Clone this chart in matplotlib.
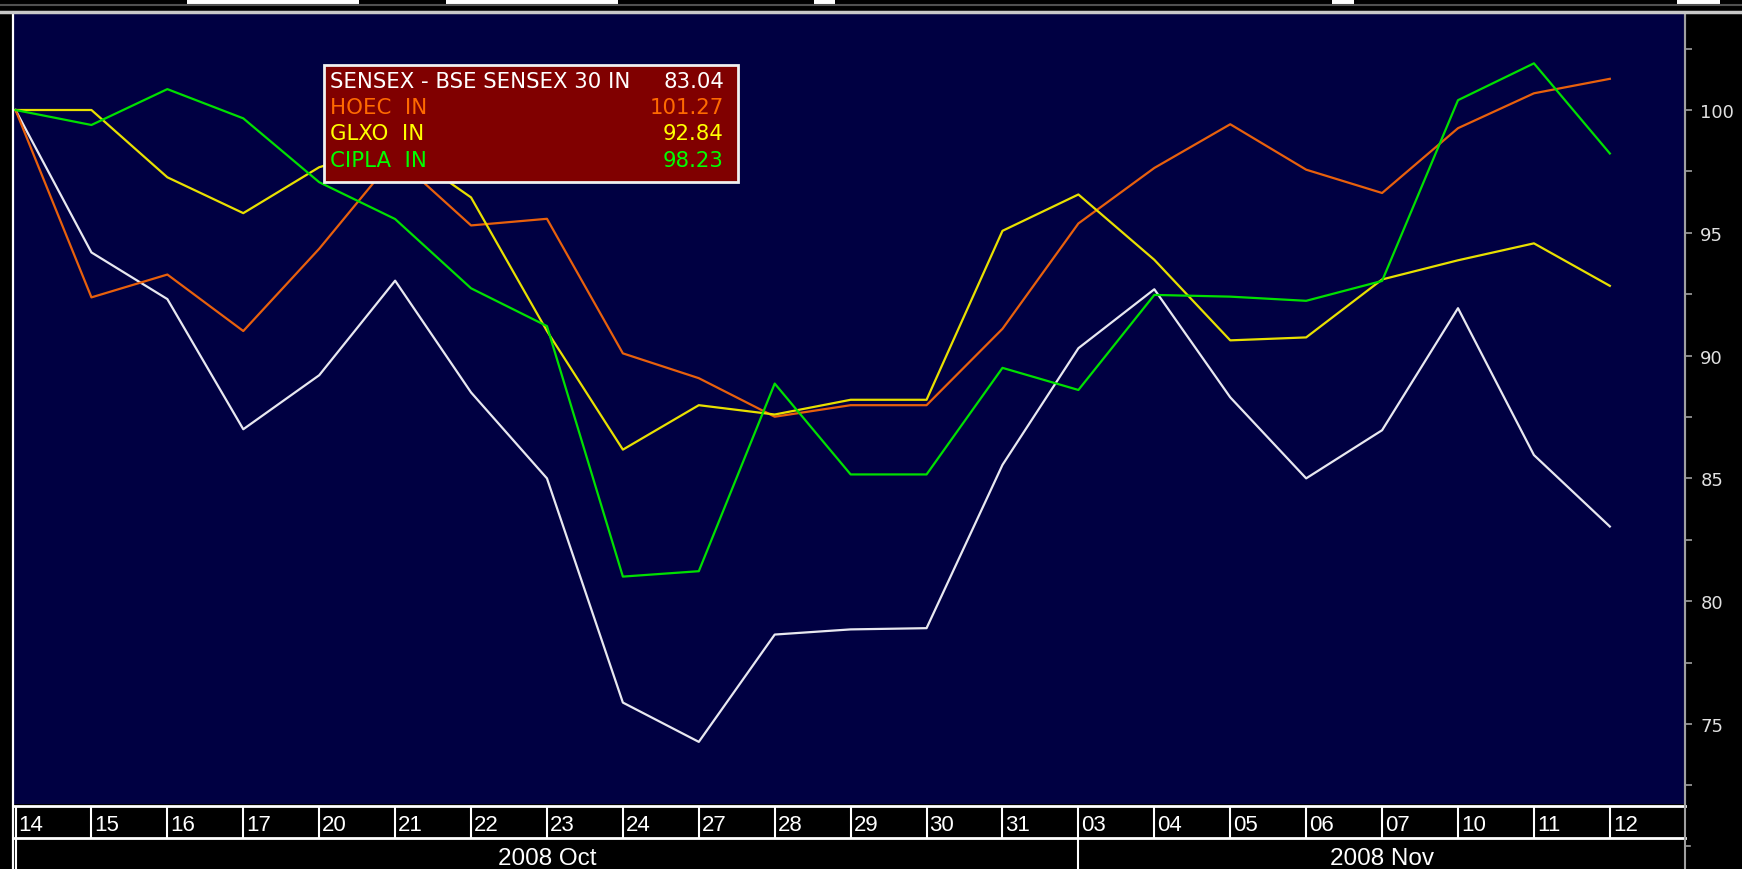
import numpy as np
import matplotlib
matplotlib.use('Agg')
import matplotlib.pyplot as plt
from matplotlib.patches import Rectangle
from matplotlib.lines import Line2D

W, H = 1742, 870

dates = ['14', '15', '16', '17', '20', '21', '22', '23', '24', '27', '28',
         '29', '30', '31', '03', '04', '05', '06', '07', '10', '11', '12']
months = ['2008 Oct', '2008 Nov']
month_start = [0, 14]

sensex = [100, 94.2, 92.3, 87.0, 89.2, 93.05, 88.5, 85.0, 75.87, 74.27, 78.64,
          78.85, 78.9, 85.55, 90.3, 92.7, 88.3, 85.0, 86.96, 91.93, 85.95, 83.04]
hoec = [100, 92.37, 93.3, 91.0, 94.35, 98.1, 95.3, 95.57, 90.09, 89.08, 87.51,
        87.98, 87.98, 91.09, 95.38, 97.64, 99.42, 97.57, 96.62, 99.26, 100.68, 101.27]
glxo = [100, 100, 97.26, 95.8, 97.67, 98.6, 96.44, 91.0, 86.17, 87.98, 87.6,
        88.2, 88.2, 95.08, 96.56, 93.9, 90.62, 90.74, 93.1, 93.88, 94.57, 92.84]
cipla = [100, 99.39, 100.85, 99.66, 97.06, 95.56, 92.74, 91.2, 81.0, 81.22, 88.86,
         85.16, 85.16, 89.5, 88.6, 92.47, 92.4, 92.23, 93.04, 100.4, 101.9, 98.23]

names = ['SENSEX - BSE SENSEX 30 IN', 'HOEC  IN', 'GLXO  IN', 'CIPLA  IN']
series = [sensex, hoec, glxo, cipla]
line_colors = ['#e8e8f0', '#e8600c', '#e8e000', '#00e000']
text_colors = ['#ffffff', '#ff6a00', '#ffff00', '#00ff00']

narrow = ['Liberation Sans', 'DejaVu Sans']


def fx(x):
    return x / W


def fy(y):
    return 1 - y / H


fig = plt.figure(figsize=(W / 100, H / 100), dpi=100, facecolor='black')

# main plot area
left, right, top, bottom = 14, 1685, 14, 805
ax = fig.add_axes([fx(left), fy(bottom), fx(right - left), (bottom - top) / H])
ax.set_facecolor('#000042')
x = np.arange(len(dates))
for vals, c in zip(series, line_colors):
    ax.plot(x, vals, color=c, lw=1.6, zorder=3)
ax.set_xlim(-0.02, 21.99)
ax.set_ylim(71.74, 103.95)
ax.set_xticks([])
ax.yaxis.tick_right()
ax.set_yticks([75, 80, 85, 90, 95, 100])
ax.set_yticks(np.arange(72.5, 104, 5), minor=True)
ax.tick_params(axis='y', which='both', colors='#a0a0a0', length=5, width=1.2,
               direction='out', pad=6)
ax.tick_params(axis='y', which='major', labelcolor='#e0e0e0', labelsize=13)
for s in ['top', 'left', 'bottom']:
    ax.spines[s].set_visible(False)
ax.spines['right'].set_color('#a0a0a0')
ax.spines['right'].set_linewidth(1.5)

# legend box
lx0, lx1, ly0, ly1 = 324, 738, 66, 183
fig.patches.append(Rectangle((fx(lx0), fy(ly1)), fx(lx1 - lx0), (ly1 - ly0) / H,
                             transform=fig.transFigure, facecolor='#800000',
                             edgecolor='#f0f0f0', lw=2, zorder=10))
row_y = [81.7, 108.3, 134.5, 161]
for i, (n, v, c) in enumerate(zip(names, series, text_colors)):
    fig.text(fx(330), fy(row_y[i]), n, color=c, fontsize=15.3, va='center',
             ha='left', zorder=11)
    fig.text(fx(724), fy(row_y[i]), '%.2f' % v[-1], color=c, fontsize=15.3,
             va='center', ha='right', zorder=11)

# date row
ax_d = fig.add_axes([fx(left), fy(839), fx(right - left), 31 / H])
ax_d.set_facecolor('black')
ax_d.set_xlim(ax.get_xlim())
ax_d.set_ylim(0, 1)
ax_d.axis('off')
for i, d in enumerate(dates):
    ax_d.axvline(i, color='white', lw=1.5)
    ax_d.text(i + 0.04, 0.45, d, color='white', fontsize=16, va='center',
              ha='left', family=narrow)

# month row
ax_m = fig.add_axes([fx(left), 0, fx(right - left), 31 / H])
ax_m.set_facecolor('black')
ax_m.set_xlim(ax.get_xlim())
ax_m.set_ylim(0, 1)
ax_m.axis('off')
ends = month_start[1:] + [ax.get_xlim()[1]]
for m, s, e in zip(months, month_start, ends):
    ax_m.axvline(s, color='white', lw=1.5)
    ax_m.text((s + e) / 2, 0.35, m, color='white', fontsize=17.5, va='center',
              ha='center', family=narrow)

# frame lines
for (x0, y0, x1, y1, c, lw) in [
        (13, 14, 13, 870, 'white', 1.6),
        (14, 807, 1685, 807, 'white', 2),
        (14, 839, 1685, 839, 'white', 2),
        (1685, 14, 1685, 870, '#a0a0a0', 1.5),
        (0, 12.5, W, 12.5, '#c8c8c8', 2.5),
        (0, 5.5, W, 5.5, '#505050', 1.5)]:
    fig.add_artist(Line2D([fx(x0), fx(x1)], [fy(y0), fy(y1)], color=c, lw=lw,
                          transform=fig.transFigure, zorder=12))
fig.add_artist(Line2D([fx(1685), fx(1690)], [fy(847), fy(847)], color='#a0a0a0',
                      lw=1.2, transform=fig.transFigure))

# toolbar remnants at the top edge
for (x0, x1) in [(187, 359), (446, 618), (814, 835), (1332, 1354), (1677, 1720)]:
    fig.patches.append(Rectangle((fx(x0), fy(5)), fx(x1 - x0), 5 / H,
                                 transform=fig.transFigure, facecolor='white',
                                 edgecolor='none'))

fig.savefig('out.png', dpi=100, facecolor='black')
